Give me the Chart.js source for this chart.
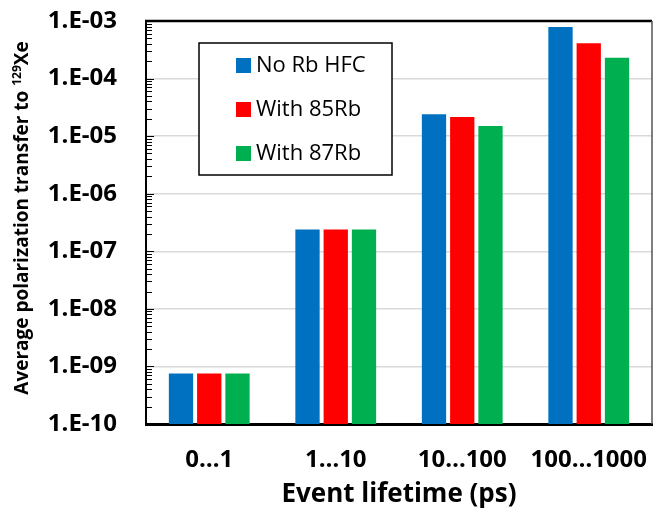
<!DOCTYPE html>
<html>
<head>
<meta charset="utf-8">
<script src="https://cdn.jsdelivr.net/npm/chart.js@4.4.1/dist/chart.umd.min.js"></script>
<style>
  html, body { margin: 0; padding: 0; background: #ffffff; }
  canvas { display: block; }
</style>
</head>
<body>
<canvas id="chart" width="654" height="510"></canvas>
<script>
// Lifetime bins and average polarization transfer per bin
const categories = ['0…1', '1…10', '10…100', '100…1000'];
const noRbHfc  = [7.5e-10, 2.4e-7, 2.4e-5, 7.9e-4];
const with85Rb = [7.5e-10, 2.4e-7, 2.15e-5, 4.1e-4];
const with87Rb = [7.5e-10, 2.4e-7, 1.5e-5, 2.3e-4];

const seriesNames  = ['No Rb HFC', 'With 85Rb', 'With 87Rb'];
const seriesColors = ['#0070C0', '#FF0000', '#00B050'];

// Decade ticks of the log axis and their labels
const decadeTicks  = [1e-10, 1e-9, 1e-8, 1e-7, 1e-6, 1e-5, 1e-4, 1e-3];
const decadeLabels = ['1.E-10', '1.E-09', '1.E-08', '1.E-07', '1.E-06', '1.E-05', '1.E-04', '1.E-03'];

const xTitle = 'Event lifetime (ps)';
const yTitleMain = 'Average polarization transfer to ';
const yTitleSup = '129';
const yTitleEnd = 'Xe';

const FONT = "'Open Sans', 'Liberation Sans', sans-serif";

// Top/right frame and inward minor ticks on the value axis
const framePlugin = {
  id: 'frame',
  afterDraw(chart) {
    const { ctx, chartArea: a } = chart;
    const y = chart.scales.y;
    ctx.save();
    ctx.strokeStyle = '#000';
    ctx.lineWidth = 1;
    for (let i = 0; i < decadeTicks.length - 1; i++) {
      for (let k = 1; k <= 9; k++) {
        const v = decadeTicks[i] * k;
        const p = Math.round(y.getPixelForValue(v)) + 0.5;
        const len = k === 1 ? 8 : 6;
        ctx.beginPath();
        ctx.moveTo(a.left, p);
        ctx.lineTo(a.left + len, p);
        ctx.stroke();
      }
    }
    ctx.strokeStyle = '#000';
    ctx.lineWidth = 2.5;
    ctx.beginPath();
    ctx.moveTo(a.left - 1, a.top);
    ctx.lineTo(a.right, a.top);
    ctx.stroke();
    ctx.strokeStyle = '#555';
    ctx.lineWidth = 1.5;
    ctx.beginPath();
    ctx.moveTo(a.right, a.top);
    ctx.lineTo(a.right, a.bottom);
    ctx.stroke();
    ctx.restore();
  }
};

// Boxed legend inside the plot area
const boxLegendPlugin = {
  id: 'boxLegend',
  afterDraw(chart) {
    const { ctx, chartArea: a } = chart;
    const x0 = a.left + 53, y0 = a.top + 22, w = 193, h = 132;
    ctx.save();
    ctx.fillStyle = '#fff';
    ctx.fillRect(x0, y0, w, h);
    ctx.strokeStyle = '#000';
    ctx.lineWidth = 1.5;
    ctx.strokeRect(x0, y0, w, h);
    ctx.font = '22px ' + FONT;
    ctx.textBaseline = 'middle';
    ctx.textAlign = 'left';
    chart.data.datasets.forEach((ds, i) => {
      const cy = y0 + 22 + i * 44;
      ctx.fillStyle = ds.backgroundColor;
      ctx.fillRect(x0 + 37, cy - 7, 15, 15);
      ctx.fillStyle = '#000';
      ctx.fillText(ds.label, x0 + 57, cy + 1);
    });
    ctx.restore();
  }
};

// Rotated value-axis title with superscript mass number
const yTitlePlugin = {
  id: 'yTitle',
  afterDraw(chart) {
    const { ctx } = chart;
    const main = 'bold 19px ' + FONT;
    const sup = 'bold 12px ' + FONT;
    ctx.save();
    ctx.font = main;
    const w1 = ctx.measureText(yTitleMain).width;
    const w3 = ctx.measureText(yTitleEnd).width;
    ctx.font = sup;
    const w2 = ctx.measureText(yTitleSup).width;
    const total = w1 + w2 + w3;
    ctx.translate(28, 218);
    ctx.rotate(-Math.PI / 2);
    ctx.fillStyle = '#000';
    ctx.textBaseline = 'alphabetic';
    ctx.textAlign = 'left';
    let x = -total / 2;
    ctx.font = main;
    ctx.fillText(yTitleMain, x, 0);
    x += w1;
    ctx.font = sup;
    ctx.fillText(yTitleSup, x, -7);
    x += w2;
    ctx.font = main;
    ctx.fillText(yTitleEnd, x, 0);
    ctx.restore();
  }
};

new Chart(document.getElementById('chart'), {
  type: 'bar',
  data: {
    labels: categories,
    datasets: [
      { label: seriesNames[0], data: noRbHfc,  backgroundColor: seriesColors[0] },
      { label: seriesNames[1], data: with85Rb, backgroundColor: seriesColors[1] },
      { label: seriesNames[2], data: with87Rb, backgroundColor: seriesColors[2] }
    ]
  },
  options: {
    responsive: false,
    animation: false,
    devicePixelRatio: 1,
    layout: { padding: { top: 21, right: 2, left: 0, bottom: 0 } },
    datasets: {
      bar: { categoryPercentage: 0.67, barPercentage: 0.86, borderWidth: 0 }
    },
    plugins: {
      legend: { display: false },
      tooltip: { enabled: false }
    },
    scales: {
      x: {
        grid: { display: false, drawTicks: true, tickLength: 22, tickColor: 'rgba(0,0,0,0)' },
        border: { display: true, color: '#000', width: 3 },
        ticks: {
          color: '#000',
          padding: 0,
          font: { family: FONT, size: 24, weight: 'bold' }
        },
        title: {
          display: true,
          text: xTitle,
          color: '#000',
          padding: { top: 0, bottom: 0 },
          font: { family: FONT, size: 26, weight: 'bold' }
        },
        afterFit(scale) { scale.height = 86; }
      },
      y: {
        type: 'logarithmic',
        min: decadeTicks[0],
        max: decadeTicks[decadeTicks.length - 1],
        afterBuildTicks(scale) {
          scale.ticks = decadeTicks.map(v => ({ value: v, major: true }));
        },
        afterFit(scale) { scale.width = 146; },
        grid: {
          drawTicks: true,
          tickLength: 29,
          tickColor: 'rgba(0,0,0,0)',
          color: '#d9d9d9',
          lineWidth: 1.5
        },
        border: { display: true, color: '#000', width: 2 },
        ticks: {
          color: '#000',
          padding: 0,
          font: { family: FONT, size: 24, weight: 'bold' },
          callback(value) {
            const i = decadeTicks.findIndex(t => Math.abs(Math.log10(t) - Math.log10(value)) < 1e-6);
            return i >= 0 ? decadeLabels[i] : '';
          }
        }
      }
    }
  },
  plugins: [framePlugin, boxLegendPlugin, yTitlePlugin]
});
</script>
</body>
</html>
